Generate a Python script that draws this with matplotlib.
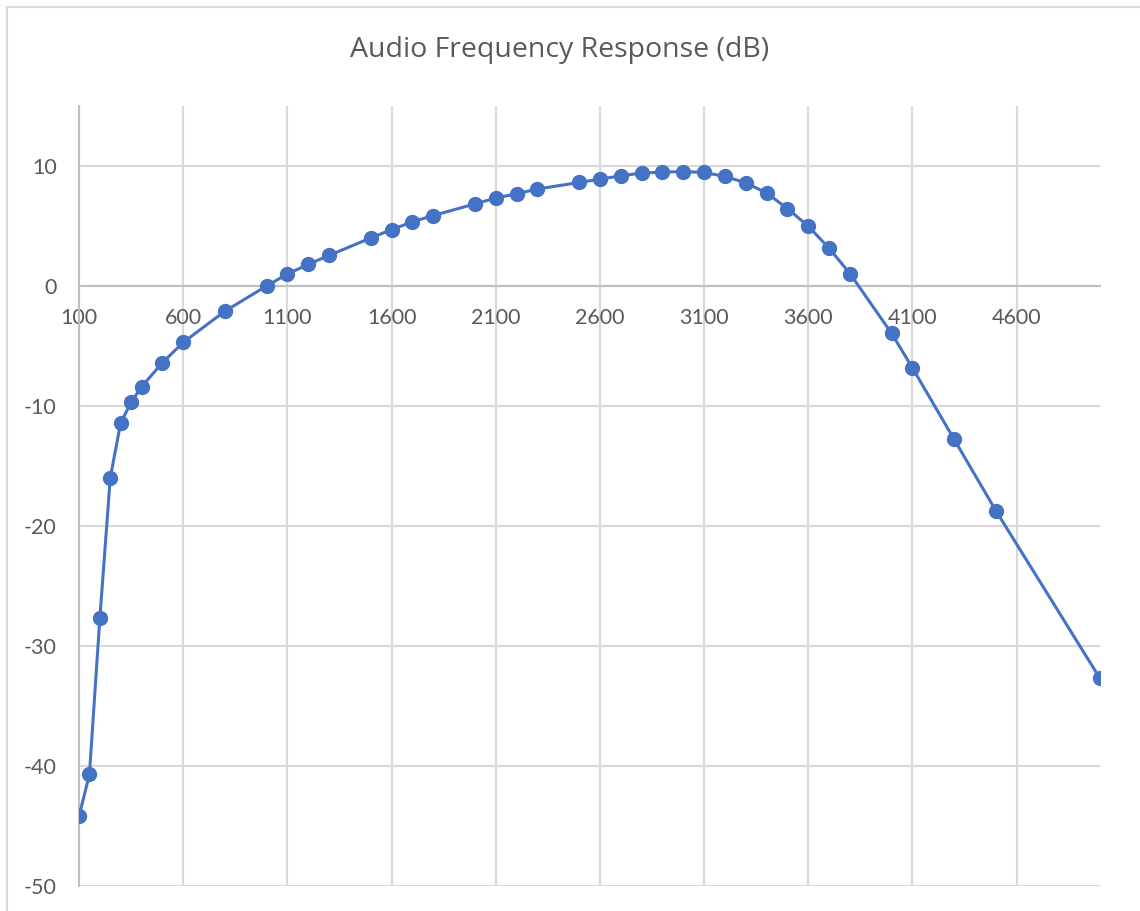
import matplotlib
matplotlib.use('Agg')
import matplotlib.pyplot as plt
from matplotlib.patches import Rectangle

freq = [100, 150, 200, 250, 300, 350, 400, 500, 600, 800, 1000, 1100, 1200,
        1300, 1500, 1600, 1700, 1800, 2000, 2100, 2200, 2300, 2500, 2600,
        2700, 2800, 2900, 3000, 3100, 3200, 3300, 3400, 3500, 3600, 3700,
        3800, 4000, 4100, 4300, 4500, 5000]
gain_db = [-44.2, -40.7, -27.7, -16.0, -11.4, -9.7, -8.4, -6.4, -4.7, -2.1,
           0.0, 1.0, 1.8, 2.55, 4.0, 4.7, 5.35, 5.87, 6.84, 7.33, 7.69, 8.08,
           8.63, 8.9, 9.19, 9.41, 9.49, 9.54, 9.46, 9.13, 8.6, 7.75, 6.45,
           4.98, 3.15, 1.03, -3.95, -6.83, -12.78, -18.72, -32.7]
x_ticks = list(range(100, 5000, 500))
y_ticks = [-50, -40, -30, -20, -10, 0, 10]

plt.rcParams['font.family'] = ['Lato', 'DejaVu Sans']
plt.rcParams['axes.unicode_minus'] = False

line_color = '#4472C4'
grid_color = '#d9d9d9'
axis_color = '#bfbfbf'
text_color = '#595959'

fig = plt.figure(figsize=(11.4, 9.11), dpi=100)
ax = fig.add_axes([79/1140, 25/911, (1100-79)/1140, (886-106)/911])

# chart area border
fig.patches.append(Rectangle((7/1140, -0.1), 1.2, (911-7)/911 + 0.1,
                             transform=fig.transFigure, fill=False,
                             edgecolor=grid_color, linewidth=1.5))

ax.plot(freq, gain_db, color=line_color, linewidth=2.2, marker='o',
        markersize=10, zorder=3)

ax.set_xlim(100, 5000)
ax.set_ylim(-50, 15)
ax.set_xticks(x_ticks)
ax.set_yticks(y_ticks)
ax.grid(True, color=grid_color, linewidth=1.5)
ax.set_axisbelow(True)

for s in ['top', 'right']:
    ax.spines[s].set_visible(False)
ax.spines['bottom'].set_position(('data', 0))
ax.spines['bottom'].set_color(axis_color)
ax.spines['left'].set_color(axis_color)
ax.spines['bottom'].set_linewidth(1.5)
ax.spines['left'].set_linewidth(1.5)
ax.spines['bottom'].set_zorder(1)

ax.tick_params(axis='x', length=0, pad=16, labelsize=15.5, labelcolor=text_color)
ax.tick_params(axis='y', length=0, pad=16, labelsize=15.5, labelcolor=text_color)

fig.text(0.491, 0.945, 'Audio Frequency Response (dB)', ha='center', va='center',
         fontsize=20.5, color=text_color, family=['Open Sans', 'DejaVu Sans'])

fig.savefig('out.png', dpi=100, facecolor='white')
